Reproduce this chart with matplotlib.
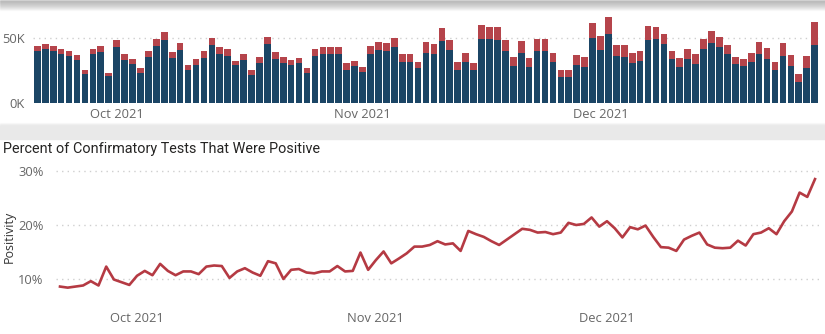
import numpy as np
import pandas as pd
import matplotlib
matplotlib.use("Agg")
import matplotlib.pyplot as plt
from matplotlib.patches import Rectangle

# Daily test counts (thousands): negative-result portion and positive-result portion
dates = pd.date_range("2021-09-21", "2021-12-28", freq="D")

total_k = [44.3, 45.8, 44.0, 41.4, 40.4, 37.0, 25.4, 42.0, 43.8, 22.8,
           48.4, 38.1, 33.9, 26.7, 40.4, 49.7, 54.6, 39.6, 46.1, 29.5,
           33.7, 39.9, 50.0, 43.5, 41.4, 32.6, 37.8, 25.1, 35.7, 51.3,
           39.1, 35.5, 32.9, 35.0, 26.9, 41.7, 43.3, 43.3, 43.3, 30.6,
           32.4, 27.7, 44.3, 47.1, 46.4, 50.5, 38.1, 38.1, 31.6, 47.1,
           45.8, 57.8, 49.0, 31.6, 38.9, 30.8, 60.1, 59.1, 59.1, 48.7,
           35.5, 47.9, 34.4, 49.2, 49.2, 38.9, 25.1, 25.1, 37.0, 35.5,
           62.2, 51.8, 66.8, 44.8, 44.8, 38.3, 39.9, 59.6, 59.1, 53.6,
           40.4, 34.4, 41.4, 37.6, 49.5, 55.4, 51.3, 45.1, 35.7, 33.7,
           38.9, 46.9, 42.2, 31.6, 46.1, 36.8, 22.3, 36.3, 62.9]

negative_k = [40.4, 42.0, 39.9, 37.8, 36.5, 33.4, 22.5, 37.6, 39.6, 21.0,
              43.0, 33.4, 30.3, 23.1, 35.7, 44.3, 48.7, 35.0, 40.7, 25.6,
              29.5, 34.7, 44.8, 38.1, 36.5, 29.0, 33.2, 21.8, 31.1, 45.6,
              34.2, 31.1, 29.0, 30.6, 23.3, 36.5, 37.8, 38.1, 38.1, 25.6,
              28.2, 23.6, 37.6, 40.9, 39.9, 43.0, 31.9, 31.9, 26.7, 38.9,
              38.1, 48.2, 40.9, 25.6, 31.9, 25.1, 49.7, 49.2, 48.7, 39.9,
              28.5, 38.9, 28.0, 39.9, 40.4, 31.6, 19.7, 19.7, 29.5, 27.7,
              50.0, 40.9, 53.4, 36.5, 35.7, 30.6, 32.1, 48.7, 49.5, 45.3,
              33.7, 28.0, 33.7, 30.3, 41.4, 46.6, 43.3, 37.6, 29.8, 28.2,
              31.9, 38.1, 33.7, 25.4, 36.3, 28.5, 16.3, 27.2, 44.8]

positive_k = [t - n for t, n in zip(total_k, negative_k)]

# Share of confirmatory tests that were positive (%)
positivity = [8.6, 8.4, 8.6, 8.8, 9.6, 8.8, 12.3, 9.9, 9.4, 8.9,
              10.6, 11.5, 10.7, 12.8, 11.5, 10.7, 11.4, 11.4, 10.9, 12.3,
              12.5, 12.4, 10.2, 11.4, 12.0, 11.2, 10.6, 13.3, 12.9, 10.0,
              11.7, 11.85, 11.2, 11.05, 11.4, 11.4, 12.4, 11.4, 11.5, 14.9,
              11.7, 13.5, 15.1, 12.9, 13.8, 14.75, 16.0, 16.0, 16.3, 17.0,
              16.4, 16.6, 15.2, 18.9, 18.3, 17.8, 17.0, 16.3, 17.3, 18.3,
              19.3, 19.1, 18.6, 18.7, 18.3, 18.6, 20.4, 20.0, 20.2, 21.4,
              19.7, 20.7, 19.4, 17.7, 19.6, 19.2, 19.9, 17.8, 15.9, 15.8,
              15.2, 17.3, 18.0, 18.6, 16.4, 15.8, 15.7, 15.8, 17.1, 16.2,
              18.3, 18.6, 19.4, 18.3, 20.7, 22.5, 26.0, 25.2, 28.5]

month_ticks = ["2021-10-01", "2021-11-01", "2021-12-01"]
month_labels = ["Oct 2021", "Nov 2021", "Dec 2021"]

BLUE = "#1b4565"
RED = "#b5444b"
LINE = "#b53a43"
TICK = "#666666"
GRID = "#cfcfcf"

W, H = 825, 334
fig = plt.figure(figsize=(W / 100, H / 100), dpi=100)
fig.patch.set_facecolor("white")


def px_rect(x0, y0, x1, y1):
    return [x0 / W, 1 - y1 / H, (x1 - x0) / W, (y1 - y0) / H]


# soft grey canvas bands (page background between visuals)
for i in range(10):
    a = 0.30 * (1 - i / 10)
    fig.patches.append(Rectangle((0, 1 - (i + 1) / H), 1, 1 / H,
                                 transform=fig.transFigure,
                                 color="#9a9a9a", alpha=a, zorder=0))
fig.patches.append(Rectangle((0, 1 - 139 / H), 1, 12 / H,
                             transform=fig.transFigure,
                             color="#e9e9e9", zorder=0))
for i in range(4):
    fig.patches.append(Rectangle((0, 1 - (127 - i) / H), 1, 1 / H,
                                 transform=fig.transFigure,
                                 color="#e9e9e9", alpha=0.7 - 0.17 * i, zorder=0))

x = np.arange(len(dates))
tick_pos = [dates.get_loc(pd.Timestamp(t)) for t in month_ticks]

# ---- stacked daily test volume ----
ax1 = fig.add_axes(px_rect(33, 12.5, 819, 102.7))
ax1.bar(x, np.array(negative_k) * 1000, width=0.84, color=BLUE, zorder=2)
ax1.bar(x, np.array(positive_k) * 1000, width=0.84, bottom=np.array(negative_k) * 1000,
        color=RED, zorder=2)
ax1.set_xlim(-0.55, len(x) - 0.45)
ax1.set_ylim(0, 70000)
ax1.set_yticks([0, 50000])
ax1.set_yticklabels(["0K", "50K"])
ax1.axhline(50000, color=GRID, lw=1, ls=(0, (1, 3)), zorder=1)
ax1.set_xticks(tick_pos)
ax1.set_xticklabels(month_labels)
ax1.tick_params(length=0, labelsize=9.3, colors=TICK)
ax1.tick_params(axis="y", pad=6)
ax1.tick_params(axis="x", pad=4)
for s in ax1.spines.values():
    s.set_visible(False)
ax1.set_facecolor("none")

# ---- positivity line ----
ax2 = fig.add_axes(px_rect(56.15, 165.6, 818.85, 300.6))
ax2.plot(x, positivity, color=LINE, lw=1.9, solid_joinstyle="round", zorder=3)
ax2.set_xlim(-0.5, len(x) - 0.5)
ax2.set_ylim(6, 31)
ax2.set_yticks([10, 20, 30])
ax2.set_yticklabels(["10%", "20%", "30%"])
for v in (10, 20, 30):
    ax2.axhline(v, color=GRID, lw=1, ls=(0, (1, 3)), zorder=1)
ax2.set_xticks(tick_pos)
ax2.set_xticklabels(month_labels)
ax2.tick_params(length=0, labelsize=9.3, colors=TICK)
ax2.tick_params(axis="y", pad=9)
ax2.tick_params(axis="x", pad=8)
for s in ax2.spines.values():
    s.set_visible(False)
ax2.set_facecolor("none")

fig.text(9 / W, 1 - 237 / H, "Positivity", rotation=90, fontsize=9,
         color="#333333", ha="center", va="center", family="Open Sans")

fig.text(3 / W, 1 - 149 / H, "Percent of Confirmatory Tests That Were Positive",
         fontsize=10.4, color="#252423", ha="left", va="center", family="Roboto")

for t in ax1.get_xticklabels() + ax1.get_yticklabels() + ax2.get_xticklabels() + ax2.get_yticklabels():
    t.set_family("Open Sans")

fig.savefig("out.png", dpi=100)
